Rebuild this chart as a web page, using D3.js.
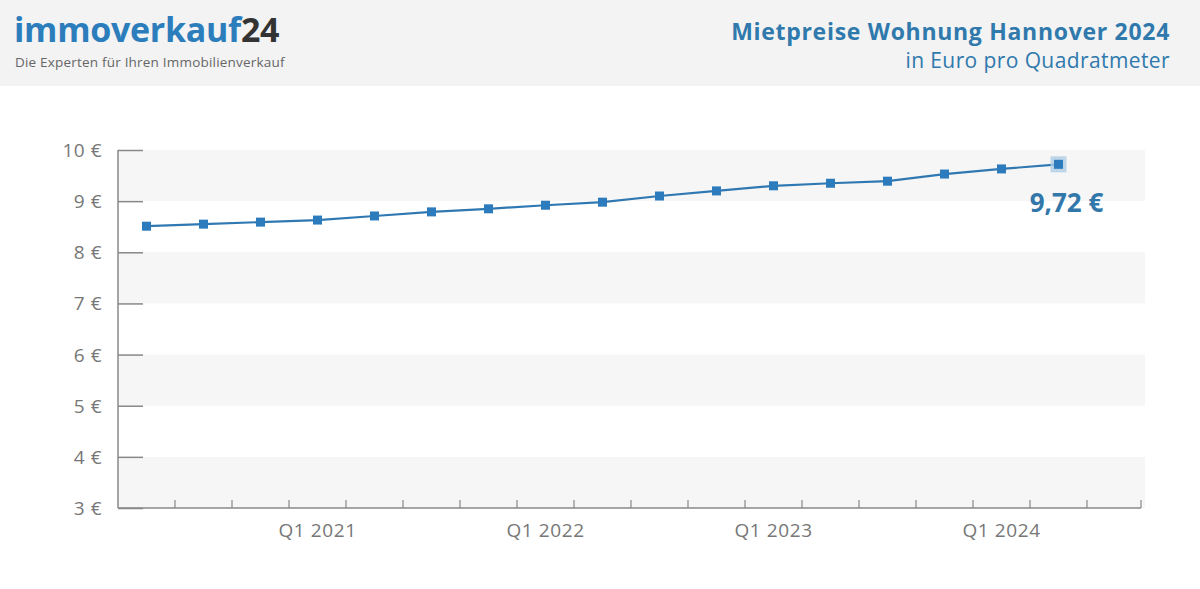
<!DOCTYPE html>
<html>
<head>
<meta charset="utf-8">
<script src="https://cdn.jsdelivr.net/npm/d3@7"></script>
<style>
  body { margin: 0; background: #fff; }
  svg { display: block; font-family: "Open Sans", "Noto Sans", sans-serif; }
</style>
</head>
<body>
<script>
// quarters shown on the x axis (last one has no value yet)
var quarters = ["Q2 2020","Q3 2020","Q4 2020","Q1 2021","Q2 2021","Q3 2021","Q4 2021",
  "Q1 2022","Q2 2022","Q3 2022","Q4 2022","Q1 2023","Q2 2023","Q3 2023","Q4 2023",
  "Q1 2024","Q2 2024","Q3 2024"];
// rent in euro per square metre
var prices = [8.51, 8.55, 8.59, 8.63, 8.71, 8.79, 8.85, 8.92, 8.98, 9.10, 9.20,
  9.30, 9.35, 9.39, 9.53, 9.63, 9.72];
var yTicks = [3, 4, 5, 6, 7, 8, 9, 10];

var W = 1200, H = 589;
var svg = d3.select("body").append("svg")
  .attr("width", W)
  .attr("height", H);

//============================================================
// header
svg.append("rect").attr("x", 0).attr("y", 0).attr("width", W).attr("height", 86)
  .style("fill", "#f3f3f4");

var logo = svg.append("text").attr("x", 14).attr("y", 42)
  .style("font-size", "34px").style("font-weight", "bold").style("letter-spacing", "-0.3px");
logo.append("tspan").text("immoverkauf").style("fill", "#2b7dbc");
logo.append("tspan").text("24").style("fill", "#333");

svg.append("text").attr("x", 15).attr("y", 67)
  .text("Die Experten für Ihren Immobilienverkauf")
  .style("font-size", "13.5px").style("letter-spacing", "0.2px").style("fill", "#666");

svg.append("text").attr("x", 1170).attr("y", 40).attr("text-anchor", "end")
  .text("Mietpreise Wohnung Hannover 2024")
  .style("font-size", "23px").style("letter-spacing", "0.7px")
  .style("font-weight", "bold").style("fill", "#2f79ad");
svg.append("text").attr("x", 1170).attr("y", 68).attr("text-anchor", "end")
  .text("in Euro pro Quadratmeter")
  .style("font-size", "21px").style("letter-spacing", "0.4px").style("fill", "#2f79ad");

//============================================================
// scales
var x = d3.scaleBand().domain(quarters).range([118, 1144]);
var y = d3.scaleLinear().domain([3, 10]).range([508, 150]);

// alternating stripes
var stripes = d3.range(3, 10).filter(function (v) { return (10 - v) % 2 === 1; });
svg.selectAll("rect.stripe")
  .data(stripes)
  .enter()
  .append("rect")
  .attr("class", "stripe")
  .attr("x", 118)
  .attr("y", function (d) { return y(d + 1); })
  .attr("width", 1145 - 118)
  .attr("height", function (d) { return y(d) - y(d + 1); })
  .style("fill", "#f6f6f6");

// y axis
var yAxis = d3.axisRight(y).tickValues(yTicks).tickSize(25).tickFormat("");
var gy = svg.append("g").attr("transform", "translate(118,0)").call(yAxis);
gy.select(".domain").remove();
gy.selectAll("line").style("stroke", "#888").style("stroke-width", 1.5);
svg.append("line").attr("x1", 118).attr("x2", 118).attr("y1", y(10)).attr("y2", y(3))
  .style("stroke", "#888").style("stroke-width", 1.5);

svg.selectAll("text.ylab")
  .data(yTicks)
  .enter()
  .append("text")
  .attr("class", "ylab")
  .attr("x", 102)
  .attr("y", function (d) { return y(d) + 7; })
  .attr("text-anchor", "end")
  .text(function (d) { return d + " €"; })
  .style("font-size", "19px")
  .style("letter-spacing", "0.5px")
  .style("fill", "#777");

// x axis: ticks on band borders, labels only for Q1
var borders = quarters.map(function (q) { return x(q); }).concat([x.range()[1] - 3]);
svg.append("line").attr("x1", 118).attr("x2", borders[borders.length - 1])
  .attr("y1", y(3)).attr("y2", y(3))
  .style("stroke", "#888").style("stroke-width", 1.5);
svg.selectAll("line.xtick")
  .data(borders.slice(1))
  .enter()
  .append("line")
  .attr("class", "xtick")
  .attr("x1", function (d) { return d; })
  .attr("x2", function (d) { return d; })
  .attr("y1", y(3) - 8)
  .attr("y2", y(3))
  .style("stroke", "#888").style("stroke-width", 1.2);

svg.selectAll("text.xlab")
  .data(quarters.filter(function (q) { return q.indexOf("Q1") === 0; }))
  .enter()
  .append("text")
  .attr("class", "xlab")
  .attr("x", function (d) { return x(d) + x.bandwidth() / 2; })
  .attr("y", 537)
  .attr("text-anchor", "middle")
  .text(function (d) { return d; })
  .style("font-size", "19px")
  .style("letter-spacing", "0.6px")
  .style("fill", "#777");

//============================================================
// line + markers
var pts = prices.map(function (v, i) { return { q: quarters[i], v: v }; });
var cx = function (d) { return x(d.q) + x.bandwidth() / 2; };

svg.append("path")
  .datum(pts)
  .attr("d", d3.line().x(cx).y(function (d) { return y(d.v); }))
  .style("fill", "none")
  .style("stroke", "#2f78b2")
  .style("stroke-width", 2.2);

var last = pts[pts.length - 1];
svg.append("rect")
  .attr("x", cx(last) - 8).attr("y", y(last.v) - 8)
  .attr("width", 16).attr("height", 16)
  .style("fill", "#aecde6").style("opacity", 0.8);

svg.selectAll("rect.marker")
  .data(pts)
  .enter()
  .append("rect")
  .attr("class", "marker")
  .attr("x", function (d) { return cx(d) - 4.5; })
  .attr("y", function (d) { return y(d.v) - 4.5; })
  .attr("width", 9)
  .attr("height", 9)
  .style("fill", "#2b7bbd");

svg.append("text")
  .attr("x", cx(last) + 8).attr("y", 212)
  .attr("text-anchor", "middle")
  .text(d3.format(".2f")(last.v).replace(".", ",") + " €")
  .style("font-size", "26px").style("font-weight", "bold").style("fill", "#3277aa");
</script>
</body>
</html>
